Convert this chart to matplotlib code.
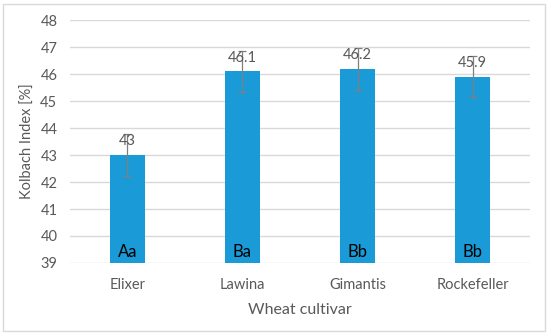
import matplotlib.pyplot as plt
from matplotlib.patches import Rectangle

cultivars = ["Elixer", "Lawina", "Gimantis", "Rockefeller"]
kolbach = [43.0, 46.1, 46.2, 45.9]
errors = [0.77, 0.75, 0.78, 0.76]
letters = ["Aa", "Ba", "Bb", "Bb"]
value_labels = ["43", "46.1", "46.2", "45.9"]

plt.rcParams['font.family'] = ['Lato', 'DejaVu Sans']
grey = '#595959'

fig = plt.figure(figsize=(5.5, 3.35), dpi=100)
fig.patches.append(Rectangle((0.006, 0.012), 0.985, 0.976, transform=fig.transFigure,
                             fill=False, edgecolor='#d9d9d9', linewidth=1))
ax = fig.add_axes([0.127, 0.215, 0.837, 0.725])

x = range(len(cultivars))
ax.bar(x, [v - 39 for v in kolbach], bottom=39, width=0.31, color='#1a9ad6', zorder=2)
ax.errorbar(x, kolbach, yerr=errors, fmt='none', ecolor='#7f7f7f', elinewidth=0.9,
            capsize=3, capthick=0.9, zorder=3)

for i in x:
    ax.text(i, kolbach[i] + 0.25, value_labels[i], ha='center', va='bottom', fontsize=10.5, color=grey, zorder=4)
    ax.text(i, 39.1, letters[i], ha='center', va='bottom', fontsize=12, color='black', zorder=4)

ax.set_xlim(-0.5, 3.5)
ax.set_ylim(39, 48)
ax.set_yticks(range(39, 49))
ax.set_xticks(list(x))
ax.set_xticklabels(cultivars)
ax.tick_params(axis='both', length=0, labelsize=10.5, colors=grey)
ax.tick_params(axis='x', pad=11)
ax.tick_params(axis='y', pad=9)
ax.grid(axis='y', color='#d9d9d9', linewidth=1, zorder=0)
for s in ax.spines.values():
    s.set_visible(False)

ax.set_xlabel("Wheat cultivar", fontsize=11.5, color=grey, labelpad=8)
ax.set_ylabel("Kolbach Index [%]", fontsize=10.5, color=grey, labelpad=0)
ax.yaxis.set_label_coords(-0.075, 0.5)

fig.savefig("out.png", dpi=100)
